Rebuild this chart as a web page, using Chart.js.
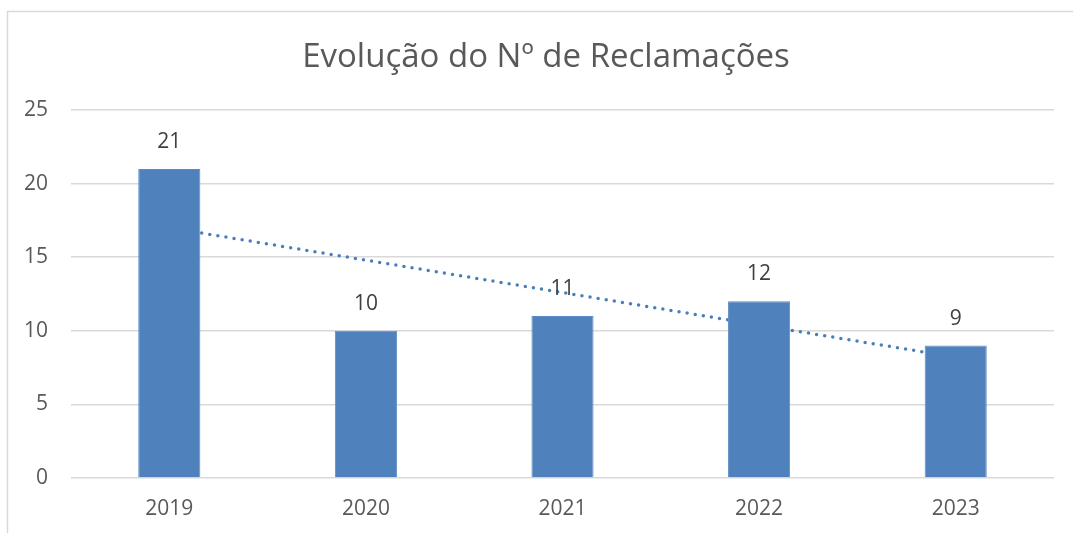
<!DOCTYPE html>
<html>
<head>
<meta charset="utf-8">
<script src="https://cdn.jsdelivr.net/npm/chart.js@4.4.0/dist/chart.umd.min.js"></script>
<style>
html,body{margin:0;padding:0;background:#fff;}
#wrap{position:relative;width:1073px;height:533px;}
</style>
</head>
<body>
<div id="wrap"><canvas id="c" width="1073" height="533"></canvas></div>
<script>
const titleText = 'Evolução do Nº de Reclamações';
const categories = ['2019', '2020', '2021', '2022', '2023'];
const complaints = [21, 10, 11, 12, 9];
const trendValues = [17.0, 14.8, 12.6, 10.4, 8.2];
const yTicks = [0, 5, 10, 15, 20, 25];

const FONT = "'Open Sans', 'Noto Sans', sans-serif";

const frame = {
  id: 'frame',
  beforeDraw(chart) {
    const ctx = chart.ctx;
    ctx.save();
    ctx.fillStyle = '#ffffff';
    ctx.fillRect(0, 0, chart.width, chart.height);
    ctx.strokeStyle = '#d9d9d9';
    ctx.lineWidth = 1.5;
    ctx.beginPath();
    ctx.moveTo(7.5, chart.height + 5);
    ctx.lineTo(7.5, 11.5);
    ctx.lineTo(chart.width + 5, 11.5);
    ctx.stroke();
    // chart title
    ctx.font = '33px ' + FONT;
    ctx.fillStyle = '#595959';
    ctx.textAlign = 'center';
    ctx.textBaseline = 'alphabetic';
    ctx.fillText(titleText, 546, 67);
    ctx.restore();
  }
};

const labels = {
  id: 'labels',
  afterDatasetsDraw(chart) {
    const ctx = chart.ctx;
    const meta = chart.getDatasetMeta(0);
    ctx.save();
    ctx.font = '21px ' + FONT;
    ctx.fillStyle = '#404040';
    ctx.textAlign = 'center';
    ctx.textBaseline = 'middle';
    meta.data.forEach((el, i) => {
      ctx.fillText(String(complaints[i]), el.x, el.y - 27);
    });
    ctx.restore();
  }
};

new Chart(document.getElementById('c'), {
  data: {
    labels: categories,
    datasets: [
      {
        type: 'bar',
        data: complaints,
        backgroundColor: '#4f81bd',
        borderColor: '#5d8cc4',
        borderWidth: 1,
        barPercentage: 0.316,
        categoryPercentage: 1,
        order: 0
      },
      {
        type: 'line',
        data: trendValues,
        borderColor: '#4a7ebb',
        borderWidth: 3.5,
        borderDash: [0, 8.2],
        borderCapStyle: 'round',
        pointRadius: 0,
        fill: false,
        tension: 0,
        order: 1
      }
    ]
  },
  options: {
    responsive: false,
    animation: false,
    layout: { padding: { left: 11, right: 19, top: 110, bottom: 0 } },
    plugins: {
      legend: { display: false },
      tooltip: { enabled: false },
      title: { display: false }
    },
    scales: {
      x: {
        grid: { display: false, drawTicks: false },
        border: { display: false },
        ticks: { color: '#595959', font: { family: FONT, size: 21 }, padding: 18 },
        afterFit(scale) { scale.height = 55; }
      },
      y: {
        min: 0,
        max: 25,
        afterBuildTicks(scale) { scale.ticks = yTicks.map(v => ({ value: v })); },
        grid: { color: '#d9d9d9', lineWidth: 1.5, drawTicks: false },
        border: { display: false },
        ticks: { color: '#595959', font: { family: FONT, size: 21 }, padding: 23 },
        afterFit(scale) { scale.width = 60; }
      }
    }
  },
  plugins: [frame, labels]
});
</script>
</body>
</html>
